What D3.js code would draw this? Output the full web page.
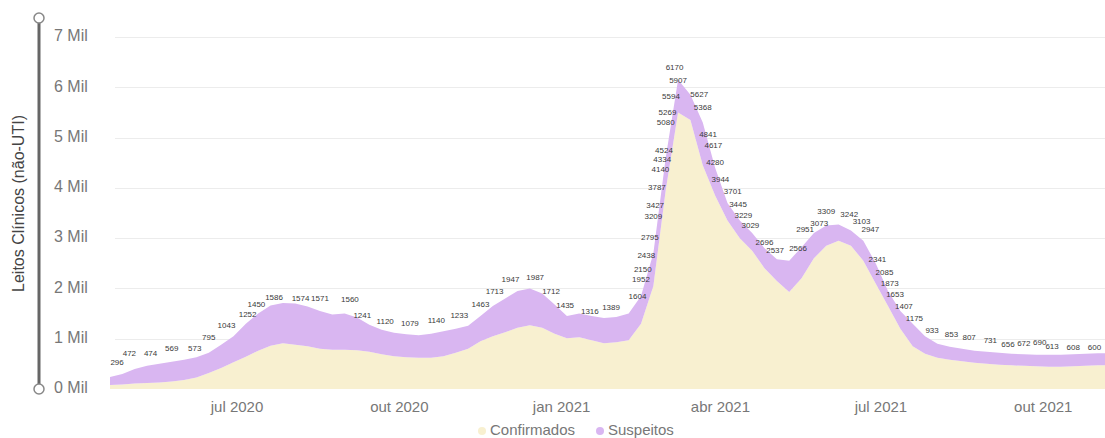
<!DOCTYPE html>
<html>
<head>
<meta charset="utf-8">
<script src="https://cdn.jsdelivr.net/npm/d3@7"></script>
<style>
  html, body { margin: 0; padding: 0; background: #fff; }
  svg { display: block; font-family: "Liberation Sans", Arial, sans-serif; }
</style>
</head>
<body>
<div class="leitos-container"></div>
<script>

// DATA (weekly, mondays)
const weekStart = new Date(2020, 3, 20);
const weekEnd = new Date(2021, 10, 9);

const confirmados = [80,90,110,120,130,150,180,230,320,420,
	530,640,760,860,910,880,850,800,780,780,
	770,740,690,650,630,620,620,650,720,800,
	950,1050,1130,1220,1270,1220,1100,1010,1030,970,
	910,930,970,1300,2050,3950,5500,5350,4450,3850,
	3350,3000,2750,2400,2150,1930,2200,2600,2850,2950,
	2850,2550,2100,1650,1200,850,700,620,580,550,
	520,500,480,470,460,450,440,440,450,460,
	470,470];

const suspeitos = [160,210,290,340,370,390,400,400,400,460,
	520,660,740,800,800,820,790,750,700,720,
	650,540,490,470,460,450,480,500,480,460,
	500,600,670,730,730,680,580,440,470,480,
	500,500,530,550,650,650,650,500,850,550,
	350,350,350,400,430,620,620,500,400,320,
	300,400,400,300,350,450,350,280,260,250,
	240,240,240,230,230,230,240,240,240,240,
	240,240];

// data labels that stay visible in the chart (total of the day)
const labelDates = ["2020-04-24","2020-05-01","2020-05-13","2020-05-25","2020-06-07","2020-06-15","2020-06-25","2020-07-07","2020-07-12","2020-07-22",
	"2020-08-06","2020-08-17","2020-09-03","2020-09-10","2020-09-23","2020-10-07","2020-10-22","2020-11-04","2020-11-16","2020-11-24",
	"2020-12-03","2020-12-17","2020-12-26","2021-01-03","2021-01-17","2021-01-29","2021-02-13","2021-02-15","2021-02-16","2021-02-18",
	"2021-02-20","2021-02-22","2021-02-23","2021-02-24","2021-02-26","2021-02-27","2021-02-28","2021-03-01","2021-03-02","2021-03-04",
	"2021-03-06","2021-03-08","2021-03-20","2021-03-22","2021-03-25","2021-03-28","2021-03-29","2021-04-01","2021-04-08","2021-04-11",
	"2021-04-14","2021-04-18","2021-04-26","2021-05-02","2021-05-15","2021-05-19","2021-05-27","2021-05-31","2021-06-13","2021-06-20",
	"2021-06-25","2021-06-29","2021-07-03","2021-07-06","2021-07-09","2021-07-14","2021-07-20","2021-07-30","2021-08-10","2021-08-20",
	"2021-09-01","2021-09-11","2021-09-20","2021-09-29","2021-10-06","2021-10-18","2021-10-30"];

const labelValues = [296,472,474,569,573,795,1043,1252,1450,1586,
	1574,1571,1560,1241,1120,1079,1140,1233,1463,1713,
	1947,1987,1712,1435,1316,1389,1604,1952,2150,2438,
	2795,3209,3427,3787,4140,4334,4524,5080,5269,5594,
	6170,5907,5627,5368,4841,4617,4280,3944,3701,3445,
	3229,3029,2696,2537,2566,2951,3073,3309,3242,3103,
	2947,2341,2085,1873,1653,1407,1175,933,853,807,
	731,656,672,690,613,608,600];

const yTicks = [0,1000,2000,3000,4000,5000,6000,7000];
const xTicks = ["2020-07-01","2020-10-01","2021-01-01","2021-04-01","2021-07-01","2021-10-01"];
const monthNames = ["jan","fev","mar","abr","mai","jun","jul","ago","set","out","nov","dez"];
const seriesNames = ["Confirmados","Suspeitos"];
const seriesColors = ["#f8f0d0","#d9b6f1"];

const width = 1105, height = 438;
const margin = {top: 37, right: 0, bottom: 49, left: 110};

const parseDate = d3.timeParse("%Y-%m-%d");
const weeks = d3.timeMonday.range(weekStart, weekEnd);

const table = weeks.map((d, i) => ({date: d, Confirmados: confirmados[i], Suspeitos: suspeitos[i]}));

const svg = d3.select('.leitos-container').append('svg')
	.attr('width', width)
	.attr('height', height);

const xScale = d3.scaleTime()
	.domain([new Date(2020, 3, 20), new Date(2021, 10, 5)])
	.range([margin.left, width - margin.right]);

const yScale = d3.scaleLinear()
	.domain([0, 7000])
	.range([height - margin.bottom, margin.top]);

//GRID
svg.append('g')
	.selectAll('line')
	.data(yTicks.filter(d => d > 0))
	.join('line')
	.attr('x1', margin.left + 5)
	.attr('x2', width)
	.attr('y1', d => Math.round(yScale(d)) + 0.5)
	.attr('y2', d => Math.round(yScale(d)) + 0.5)
	.attr('stroke', '#ececec')
	.attr('stroke-width', 1);

//AREAS
const stack = d3.stack().keys(seriesNames);
const layers = stack(table);

const area = d3.area()
	.x(d => xScale(d.data.date))
	.y0(d => yScale(d[0]))
	.y1(d => yScale(d[1]));

svg.append('defs').append('clipPath')
	.attr('id', 'plot-clip')
	.append('rect')
	.attr('x', margin.left)
	.attr('y', 0)
	.attr('width', width - margin.left)
	.attr('height', height);

svg.append('g')
	.attr('clip-path', 'url(#plot-clip)')
	.selectAll('path')
	.data(layers)
	.join('path')
	.attr('d', area)
	.attr('fill', (d, i) => seriesColors[i]);

//DATA LABELS
svg.append('g')
	.attr('clip-path', 'url(#plot-clip)')
	.selectAll('text')
	.data(labelValues)
	.join('text')
	.attr('x', (d, i) => xScale(parseDate(labelDates[i])))
	.attr('y', d => yScale(d) - 11)
	.attr('text-anchor', 'middle')
	.attr('dominant-baseline', 'middle')
	.style('font-size', '8px')
	.style('fill', '#3a3a3a')
	.text(d => d);

//Y AXIS
svg.append('line')
	.attr('x1', 39).attr('x2', 39)
	.attr('y1', 18).attr('y2', yScale(0))
	.attr('stroke', '#666')
	.attr('stroke-width', 3);

svg.selectAll('.axis-end')
	.data([18, yScale(0)])
	.join('circle')
	.attr('class', 'axis-end')
	.attr('cx', 39)
	.attr('cy', d => d)
	.attr('r', 5)
	.attr('fill', '#fff')
	.attr('stroke', '#888')
	.attr('stroke-width', 1.5);

svg.append('g')
	.selectAll('text')
	.data(yTicks)
	.join('text')
	.attr('x', 54)
	.attr('y', d => yScale(d))
	.attr('dominant-baseline', 'middle')
	.style('font-size', '16px')
	.style('fill', '#777')
	.text(d => (d / 1000) + ' Mil');

svg.append('text')
	.attr('transform', `translate(24, ${(yScale(0) + 18) / 2}) rotate(-90)`)
	.attr('text-anchor', 'middle')
	.style('font-size', '16px')
	.style('fill', '#444')
	.text('Leitos Clínicos (não-UTI)');

//X AXIS
svg.append('g')
	.selectAll('text')
	.data(xTicks.map(parseDate))
	.join('text')
	.attr('x', d => xScale(d))
	.attr('y', 412)
	.attr('text-anchor', 'middle')
	.style('font-size', '15px')
	.style('fill', '#777')
	.text(d => monthNames[d.getMonth()] + ' ' + d.getFullYear());

//LEGEND
const legend = svg.append('g')
	.attr('class', 'legend');

const legendItems = legend.selectAll('g')
	.data(seriesNames)
	.join('g')
	.attr('transform', (d, i) => `translate(${482 + i * 118}, 431)`);

legendItems.append('circle')
	.attr('r', 4)
	.attr('fill', (d, i) => seriesColors[i]);

legendItems.append('text')
	.attr('x', 8)
	.attr('dominant-baseline', 'middle')
	.style('font-size', '15px')
	.style('fill', '#777')
	.text(d => d);

</script>
</body>
</html>
